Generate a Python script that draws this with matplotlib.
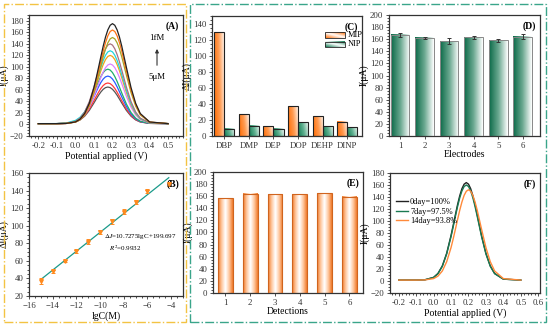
import numpy as np
import matplotlib
matplotlib.use("Agg")
import matplotlib.pyplot as plt
from matplotlib.colors import LinearSegmentedColormap
from matplotlib.patches import Rectangle

plt.rcParams["font.family"] = ["Liberation Serif", "DejaVu Serif"]
plt.rcParams["mathtext.fontset"] = "stix"
plt.rcParams["axes.linewidth"] = 0.9

# ---- (A) DPV curves, 5 uM ... 1 fM
pot = [-0.2, -0.1, -0.05, 0.0, 0.025, 0.05, 0.075, 0.1, 0.1125, 0.125, 0.1375, 0.15, 0.1625,
       0.175, 0.1875, 0.2, 0.2125, 0.225, 0.2375, 0.25, 0.275, 0.3, 0.325, 0.35, 0.4, 0.5]
dpv_a = [
    [1.5, 1.5, 1.9, 4.3, 7.9, 14.4, 24.4, 37.3, 44.1, 50.7, 56.5, 61.1, 64.0, 65.0, 64.0, 61.1, 56.5, 50.7, 44.1, 37.3, 24.4, 14.4, 7.9, 4.3, 1.9, 1.5],
    [1.5, 1.5, 1.9, 4.6, 8.6, 15.8, 26.9, 41.2, 48.8, 56.1, 62.6, 67.6, 70.9, 72.0, 70.9, 67.6, 62.6, 56.1, 48.8, 41.2, 26.9, 15.8, 8.6, 4.6, 1.9, 1.5],
    [1.5, 1.5, 2.0, 5.1, 9.8, 18.2, 31.2, 48.0, 56.9, 65.4, 73.0, 78.9, 82.7, 84.0, 82.7, 78.9, 73.0, 65.4, 56.9, 48.0, 31.2, 18.2, 9.8, 5.1, 2.0, 1.5],
    [1.5, 1.5, 2.0, 5.6, 11.0, 20.7, 35.5, 54.7, 64.9, 74.7, 83.3, 90.1, 94.5, 96.0, 94.5, 90.1, 83.3, 74.7, 64.9, 54.7, 35.5, 20.7, 11.0, 5.6, 2.0, 1.5],
    [1.5, 1.5, 1.8, 4.4, 8.5, 16.5, 30.0, 48.9, 59.8, 71.0, 81.7, 91.1, 98.6, 103.3, 105.0, 103.3, 98.6, 91.1, 81.7, 71.0, 48.9, 30.0, 16.5, 8.5, 2.5, 1.5],
    [1.5, 1.5, 1.9, 4.8, 9.5, 18.7, 34.1, 55.8, 68.2, 81.0, 93.3, 104.1, 112.7, 118.1, 120.0, 118.1, 112.7, 104.1, 93.3, 81.0, 55.8, 34.1, 18.7, 9.5, 2.7, 1.5],
    [1.5, 1.6, 2.5, 7.0, 12.5, 22.0, 37.5, 59.4, 72.7, 86.4, 99.5, 111.1, 120.2, 126.0, 128.0, 126.0, 120.2, 111.1, 99.5, 86.4, 59.4, 36.3, 19.8, 10.0, 2.8, 1.5],
    [1.5, 1.5, 1.9, 5.3, 10.9, 21.6, 39.6, 64.9, 79.5, 94.4, 108.8, 121.4, 131.4, 137.8, 140.0, 137.8, 131.4, 121.4, 108.8, 94.4, 64.9, 39.6, 21.6, 10.9, 2.9, 1.5],
    [1.5, 1.5, 1.8, 4.0, 8.1, 16.6, 31.9, 55.3, 70.0, 85.7, 101.8, 117.4, 131.0, 141.7, 148.6, 151.0, 148.6, 141.7, 131.0, 117.4, 85.7, 55.3, 31.9, 16.6, 4.0, 1.5],
    [1.5, 1.5, 1.8, 4.3, 8.6, 17.9, 34.5, 60.0, 75.9, 93.0, 110.5, 127.4, 142.2, 153.9, 161.4, 164.0, 161.4, 153.9, 142.2, 127.4, 93.0, 60.0, 34.5, 17.9, 4.3, 1.5],
    [1.5, 1.5, 1.8, 4.4, 9.1, 19.0, 36.7, 64.0, 81.0, 99.2, 117.9, 136.0, 151.8, 164.2, 172.2, 175.0, 172.2, 164.2, 151.8, 136.0, 99.2, 64.0, 36.7, 19.0, 4.4, 1.5],
]
colors_a = ["#555555", "#ff3b3b", "#2a5cff", "#1fae6a", "#de82ff", "#f2a218",
            "#22d6dc", "#a8707e", "#a6a628", "#ff7414", "#222222"]

# ---- (B) calibration
lgc = [-15, -14, -13, -12, -11, -10, -9, -8, -7, -6, -4.2]
delta_i = [37, 48, 60, 71, 82, 93, 105, 116, 127, 139, 147]
delta_err = [3, 1.5, 1, 1.5, 2.5, 2.5, 3, 3, 2, 2, 2]
fit_coef = [10.7275, 199.697]

# ---- (C) selectivity
analytes = ["DBP", "DMP", "DEP", "DOP", "DEHP", "DINP"]
mip = [130, 27, 12, 37, 25, 18]
nip = [9, 13, 9, 17, 12, 11]

# ---- (D) reproducibility
electrodes = [1, 2, 3, 4, 5, 6]
i_elec = [167, 162, 157, 163, 158, 164]
i_elec_err = [3, 2, 5, 2.5, 3, 4]

# ---- (E) repeatability
detections = [1, 2, 3, 4, 5, 6]
i_det = [157, 164, 163, 163, 165, 159]

# ---- (F) stability
stab_labels = ["0day=100%", "7day=97.5%", "14day=93.8%"]
stab_curves = [
    [1.5, 1.5, 2.0, 6.0, 12.5, 25.1, 46.2, 75.9, 93.0, 110.5, 127.4, 142.2, 153.9, 161.4, 164.0, 161.4, 153.9, 142.2, 127.4, 110.5, 75.9, 46.2, 25.1, 12.5, 3.1, 1.5],
    [1.5, 1.5, 2.0, 5.9, 12.2, 24.5, 45.1, 74.1, 90.7, 107.9, 124.3, 138.8, 150.2, 157.5, 160.0, 157.5, 150.2, 138.8, 124.3, 107.9, 74.1, 45.1, 24.5, 12.2, 3.1, 1.5],
    [1.5, 1.5, 1.8, 4.0, 8.1, 16.7, 32.1, 55.7, 70.4, 86.2, 102.5, 118.1, 131.8, 142.7, 149.6, 152.0, 149.6, 142.7, 131.8, 118.1, 86.2, 55.7, 32.1, 16.7, 4.0, 1.5],
]
stab_colors = ["#222222", "#1a7a52", "#ff8a3a"]

TICK = 6.3
LAB = 7


def style(ax, xminor=True):
    for s in ax.spines.values():
        s.set_color("#333333")
    ax.tick_params(which="both", direction="out", labelsize=TICK, width=0.6, pad=1.5, colors="#333333")
    ax.tick_params(which="major", length=2.5)
    ax.tick_params(which="minor", length=1.4)
    ax.minorticks_on()
    if not xminor:
        ax.tick_params(axis="x", which="minor", bottom=False)


def panel_tag(ax, s):
    ax.text(0.975, 0.95, s, transform=ax.transAxes, ha="right", va="top",
            fontsize=7, fontweight="bold")


def grad_fill(ax, x0, x1, y0, y1, cols, diag=0.25, sym=False):
    u = np.linspace(0, 1, 80)
    U, V = np.meshgrid(u, u)
    if sym:
        Z = np.abs(2 * U - 1)
    else:
        Z = (U + diag * V) / (1 + diag)
    cmap = LinearSegmentedColormap.from_list("g", cols)
    ax.imshow(Z, extent=(x0, x1, y0, y1), origin="lower", aspect="auto",
              cmap=cmap, zorder=1.5, interpolation="bilinear")


fig = plt.figure(figsize=(5.5, 3.25), dpi=100)

# dash-dot frames round the two groups
fig.add_artist(Rectangle((4 / 550, 3 / 325), 182 / 550, 318 / 325, transform=fig.transFigure,
                         fill=False, ec="#f3c343", lw=1.0, ls="-."))
fig.add_artist(Rectangle((190 / 550, 3 / 325), 356 / 550, 318 / 325, transform=fig.transFigure,
                         fill=False, ec="#3aa58a", lw=1.0, ls="-."))

# (A)
axA = fig.add_axes([0.0527, 0.5815, 0.28, 0.3723])
for ys, c in zip(dpv_a, colors_a):
    axA.plot(pot, ys, color=c, lw=0.9)
axA.set_xlim(-0.25, 0.58)
axA.set_ylim(-20, 190)
axA.set_xticks(np.arange(-0.2, 0.51, 0.1))
axA.set_xticklabels(["-0.2", "-0.1", "0.0", "0.1", "0.2", "0.3", "0.4", "0.5"])
axA.set_yticks(np.arange(-20, 181, 20))
axA.set_xlabel("Potential applied (V)", fontsize=LAB, labelpad=1)
axA.set_ylabel("I(μA)", fontsize=LAB, labelpad=1)
style(axA)
panel_tag(axA, "(A)")
axA.annotate("", xy=(0.44, 136), xytext=(0.44, 98),
             arrowprops=dict(arrowstyle="-|>", color="#333333", lw=0.8, mutation_scale=5))
axA.text(0.44, 150, "1fM", fontsize=6.3, ha="center", va="center")
axA.text(0.44, 83, "5μM", fontsize=6.3, ha="center", va="center")

# (B)
axB = fig.add_axes([0.0527, 0.0892, 0.28, 0.3785])
xl = np.array([lgc[0], lgc[-1]])
axB.plot(xl, np.polyval(fit_coef, xl), color="#1a9a8a", lw=0.9, zorder=2)
axB.errorbar(lgc, delta_i, yerr=delta_err, fmt="v", ms=2.6, color="#ff8a1e",
             ecolor="#ff8a1e", elinewidth=0.7, capsize=1.5, capthick=0.7, zorder=3)
axB.set_xlim(-16, -3)
axB.set_ylim(20, 160)
axB.set_xticks(np.arange(-16, -3.5, 2))
axB.set_yticks(np.arange(20, 161, 20))
axB.set_xlabel("lgC(M)", fontsize=LAB, labelpad=1)
axB.set_ylabel("ΔI(μA)", fontsize=LAB, labelpad=1)
style(axB)
panel_tag(axB, "(B)")
axB.text(0.49, 0.47, r"$\Delta I$=10.7275lgC+199.697", transform=axB.transAxes, fontsize=5.0)
axB.text(0.52, 0.365, r"$R^2$=0.9932", transform=axB.transAxes, fontsize=5.0)

# (C)
axC = fig.add_axes([0.3855, 0.5815, 0.2727, 0.3692])
xc = np.arange(len(analytes))
w = 0.41
bm = axC.bar(xc - w / 2, mip, w, facecolor="none", edgecolor="#222222", lw=0.8, zorder=3)
bn = axC.bar(xc + w / 2, nip, w, facecolor="none", edgecolor="#222222", lw=0.8, zorder=3)
for b in bm:
    grad_fill(axC, b.get_x(), b.get_x() + b.get_width(), 0, b.get_height(),
              ["#ff6a00", "#ff9a50", "#ffffff"])
for b in bn:
    grad_fill(axC, b.get_x(), b.get_x() + b.get_width(), 0, b.get_height(),
              ["#0e7a50", "#5fb090", "#ffffff"])
# legend swatches
grad_fill(axC, 4.1, 4.9, 123, 130, ["#ff6a00", "#ffffff", "#ff6a00"], diag=1.2)
grad_fill(axC, 4.1, 4.9, 111, 118, ["#0e7a50", "#ffffff", "#0e7a50"], diag=1.2)
axC.add_patch(Rectangle((4.1, 123), 0.8, 7, fill=False, ec="#222222", lw=0.6, zorder=3))
axC.add_patch(Rectangle((4.1, 111), 0.8, 7, fill=False, ec="#222222", lw=0.6, zorder=3))
axC.text(5.0, 126.5, "MIP", fontsize=6, va="center")
axC.text(5.0, 114.5, "NIP", fontsize=6, va="center")
axC.set_xlim(-0.5, 5.6)
axC.set_ylim(0, 150)
axC.set_xticks(xc)
axC.set_xticklabels(analytes)
axC.set_yticks(np.arange(0, 141, 20))
axC.set_ylabel("ΔI(μA)", fontsize=LAB, labelpad=1)
style(axC, xminor=False)
panel_tag(axC, "(C)")

# (D)
axD = fig.add_axes([0.7073, 0.5815, 0.2745, 0.3723])
bd = axD.bar(electrodes, i_elec, 0.76, facecolor="none", edgecolor="#888888", lw=0.7, zorder=3)
for b in bd:
    grad_fill(axD, b.get_x(), b.get_x() + b.get_width(), 0, b.get_height(),
              ["#0b6a48", "#6aa890", "#ffffff"], diag=0.0)
axD.errorbar(electrodes, i_elec, yerr=i_elec_err, fmt="none", ecolor="#333333",
             elinewidth=0.7, capsize=1.5, capthick=0.7, zorder=4)
axD.set_xlim(0.55, 6.7)
axD.set_ylim(0, 200)
axD.set_xticks(electrodes)
axD.set_yticks(np.arange(0, 201, 20))
axD.set_xlabel("Electrodes", fontsize=LAB, labelpad=0)
axD.set_ylabel("I(μA)", fontsize=LAB, labelpad=1)
style(axD, xminor=False)
panel_tag(axD, "(D)")

# (E)
axE = fig.add_axes([0.3873, 0.0985, 0.2727, 0.3723])
be = axE.bar(detections, i_det, 0.6, facecolor="none", edgecolor="#d0641e", lw=0.8, zorder=3)
for b in be:
    grad_fill(axE, b.get_x(), b.get_x() + b.get_width(), 0, b.get_height(),
              ["#ffffff", "#ffc8a0", "#f07a2a"], sym=True)
axE.set_xlim(0.5, 6.55)
axE.set_ylim(0, 200)
axE.set_xticks(detections)
axE.set_yticks(np.arange(0, 201, 20))
axE.set_xlabel("Detections", fontsize=LAB, labelpad=0)
axE.set_ylabel("I(μA)", fontsize=LAB, labelpad=1)
style(axE, xminor=False)
panel_tag(axE, "(E)")

# (F)
axF = fig.add_axes([0.7091, 0.0985, 0.2727, 0.3692])
for ys, c, lab in zip(stab_curves, stab_colors, stab_labels):
    axF.plot(pot, ys, color=c, lw=1.0, label=lab)
axF.set_xlim(-0.25, 0.61)
axF.set_ylim(-20, 180)
axF.set_xticks(np.arange(-0.2, 0.61, 0.1))
axF.set_xticklabels(["-0.2", "-0.1", "0.0", "0.1", "0.2", "0.3", "0.4", "0.5", "0.6"])
axF.set_yticks(np.arange(-20, 181, 20))
axF.set_xlabel("Potential applied (V)", fontsize=LAB, labelpad=1)
axF.set_ylabel("I(μA)", fontsize=LAB, labelpad=1)
style(axF)
panel_tag(axF, "(F)")
axF.legend(loc="upper left", bbox_to_anchor=(0.0, 0.84), frameon=False, fontsize=6,
           handlelength=1.4, handletextpad=0.3, labelspacing=0.2, borderaxespad=0.3)

fig.savefig("out.png", dpi=100)
